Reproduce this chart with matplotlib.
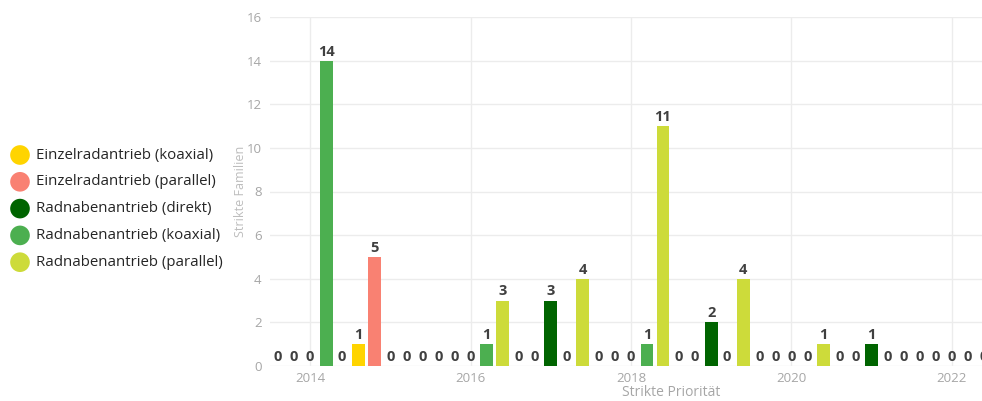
import numpy as np
import matplotlib.pyplot as plt

plt.rcParams['font.family'] = ['Open Sans', 'DejaVu Sans']

# Daten
jahre = [2014, 2015, 2016, 2017, 2018, 2019, 2020, 2021, 2022]
kategorien = ['Einzelradantrieb (koaxial)', 'Einzelradantrieb (parallel)',
              'Radnabenantrieb (direkt)', 'Radnabenantrieb (koaxial)',
              'Radnabenantrieb (parallel)']
einzel_koaxial = [0, 1, 0, 0, 0, 0, 0, 0, 0]
einzel_parallel = [0, 5, 0, 0, 0, 0, 0, 0, 0]
nabe_direkt = [0, 0, 0, 3, 0, 2, 0, 1, 0]
nabe_koaxial = [14, 0, 1, 0, 1, 0, 0, 0, 0]
nabe_parallel = [0, 0, 3, 4, 11, 4, 1, 0, 0]
werte = [einzel_koaxial, einzel_parallel, nabe_direkt, nabe_koaxial, nabe_parallel]
farben = ['#FFD400', '#F98172', '#006400', '#4CAF50', '#CDDB3A']

fig = plt.figure(figsize=(9.82, 4.01), dpi=100)
# Plotbereich geht rechts über das Bild hinaus (abgeschnitten wie im Original)
ax = fig.add_axes([270 / 982, 35 / 401, 802 / 982, 349 / 401])

slot = 0.2
x = np.array(jahre, dtype=float)
for i, (vals, c) in enumerate(zip(werte, farben)):
    pos = x + (i - 2) * slot
    ax.bar(pos, vals, width=slot * 0.8, color=c, zorder=3)
    for xp, v in zip(pos, vals):
        ax.annotate(str(v), (xp, v), xytext=(0, 1.5), textcoords='offset points',
                    ha='center', va='bottom', fontsize=10.5, fontweight='bold',
                    color='#404040', zorder=4)

ax.set_xlim(2013.5, 2023.5)
ax.set_ylim(0, 16)
ax.set_yticks(range(0, 17, 2))
ax.set_xticks([2014, 2016, 2018, 2020, 2022])
ax.tick_params(length=0, labelsize=9.5, labelcolor='#a6a6a6', pad=6)
ax.tick_params(axis='x', pad=4)
ax.grid(True, color='#ececec', linewidth=1, zorder=0)
for s in ax.spines.values():
    s.set_visible(False)
ax.set_xlabel('Strikte Priorität', fontsize=10, color='#a6a6a6', labelpad=0)
ax.set_ylabel('Strikte Familien', fontsize=9, color='#bdbdbd', labelpad=0)

# Legende links
leg = fig.add_axes([0, 0, 1, 1], facecolor='none')
leg.set_xlim(0, 982)
leg.set_ylim(401, 0)
leg.axis('off')
for k, (name, c) in enumerate(zip(kategorien, farben)):
    yy = 155 + k * 26.8
    leg.scatter([20], [yy], s=200, color=c, edgecolors='none')
    leg.text(36, yy, name, fontsize=10.8, color='#252525', va='center', ha='left')

plt.savefig('out.png', dpi=100)
